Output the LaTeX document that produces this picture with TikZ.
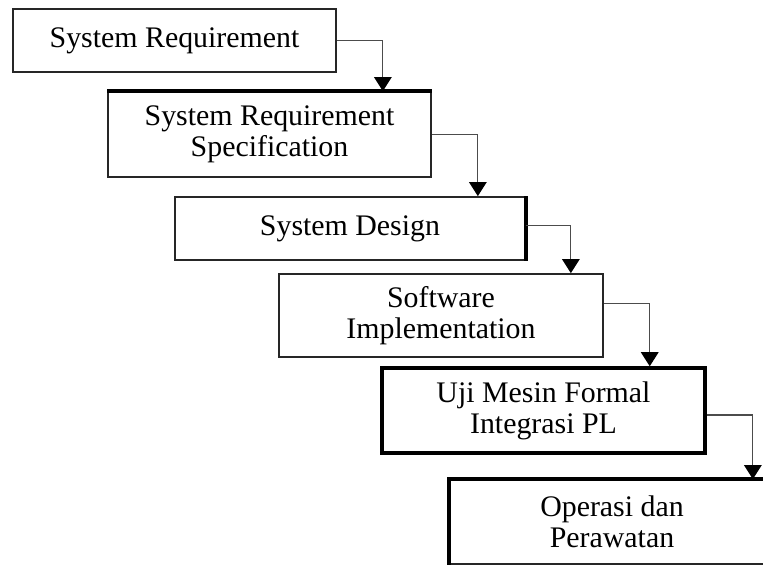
\documentclass[tikz,border=0pt]{standalone}
\usepackage{fontspec}
\setmainfont{Liberation Serif}
\usetikzlibrary{arrows.meta,calc}

\tikzset{
  stage/.style={draw=black!85, line width=1pt, fill=white, align=center, inner sep=0pt,
    font=\fontsize{17}{17.5}\selectfont},
  heavy/.style={line width=2pt, draw=black},
  flow/.style={draw=black!70, line width=0.7pt, -{Triangle[width=10pt,length=8pt,color=black]}}
}

\begin{document}
\begin{tikzpicture}[x=0.02cm, y=-0.02cm]

% Bingkai gambar
\useasboundingbox (0,0) rectangle (763,566);
\clip (0,0) rectangle (763,566);

% Tahapan
\node[stage, minimum width=6.46cm, minimum height=1.26cm] (sysreq) at (174.5,40.5) {System Requirement};
\node[stage, minimum width=6.46cm, minimum height=1.70cm] (srs) at (269.5,134.5) {System Requirement\\Specification};
\node[stage, minimum width=7.00cm, minimum height=1.26cm] (design) at (350,228.5) {System Design};
\node[stage, minimum width=6.48cm, minimum height=1.66cm] (impl) at (441,315.5) {Software\\Implementation};
\node[stage, heavy, minimum width=6.46cm, minimum height=1.70cm] (uji) at (543.5,410.5) {Uji Mesin Formal\\Integrasi PL};
\node[stage, minimum width=6.48cm, minimum height=1.68cm] (ops) at (612,522) {Operasi dan\\Perawatan};

% Sisi tebal
\draw[heavy] (srs.north west) -- (srs.north east);
\draw[heavy] (design.north east) -- (design.south east);
\draw[heavy] (ops.south west) -- (ops.north west) -- (ops.north east);

% Panah antar tahapan
\draw[flow] (sysreq.east) -| ($(srs.north east)+(-49,0)$);
\draw[flow] (srs.east) -| ($(design.north east)+(-48,0)$);
\draw[flow] ($(design.east)+(0,-3)$) -| ($(impl.north east)+(-33,0)$);
\draw[flow] ($(impl.east)+(0,-12)$) -| ($(uji.north east)+(-57,0)$);
\draw[flow] ($(uji.east)+(0,4.5)$) -| ($(ops.north east)+(-22,0)$);

\end{tikzpicture}
\end{document}
